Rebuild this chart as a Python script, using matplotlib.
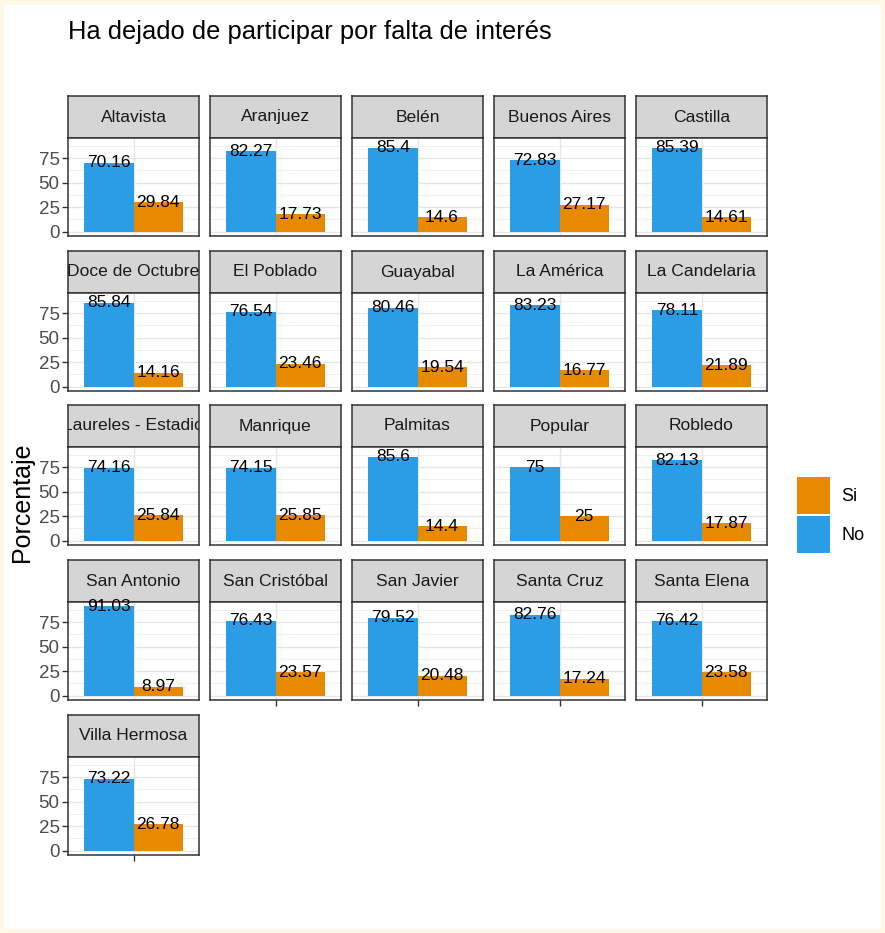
import matplotlib
matplotlib.use("Agg")
import matplotlib.pyplot as plt
from matplotlib.patches import Patch, Rectangle
from matplotlib.ticker import MultipleLocator

plt.rcParams['font.family'] = ['Liberation Sans', 'DejaVu Sans']

# Percentages per comuna: "No" / "Si"
comunas = [
    "Altavista", "Aranjuez", "Belén", "Buenos Aires", "Castilla",
    "Doce de Octubre", "El Poblado", "Guayabal", "La América", "La Candelaria",
    "Laureles - Estadio", "Manrique", "Palmitas", "Popular", "Robledo",
    "San Antonio", "San Cristóbal", "San Javier", "Santa Cruz", "Santa Elena",
    "Villa Hermosa",
]
pct_no = [70.16, 82.27, 85.4, 72.83, 85.39,
          85.84, 76.54, 80.46, 83.23, 78.11,
          74.16, 74.15, 85.6, 75, 82.13,
          91.03, 76.43, 79.52, 82.76, 76.42,
          73.22]
pct_si = [29.84, 17.73, 14.6, 27.17, 14.61,
          14.16, 23.46, 19.54, 16.77, 21.89,
          25.84, 25.85, 14.4, 25, 17.87,
          8.97, 23.57, 20.48, 17.24, 23.58,
          26.78]
respuestas = ["No", "Si"]
y_ticks = [0, 25, 50, 75]

title = "Ha dejado de participar por falta de interés"
y_title = "Porcentaje"

COLORS = {"No": "#2B9DE6", "Si": "#E88A00"}
W, H = 885, 933
DPI = 100
NCOL = 5

fig = plt.figure(figsize=(W / DPI, H / DPI), dpi=DPI, facecolor="#FFF8E6")
# white canvas inside a thin cream frame
fig.patches.append(Rectangle((4 / W, 4 / H), (W - 8) / W, (H - 9) / H,
                             transform=fig.transFigure, facecolor="white",
                             edgecolor="none", zorder=-10))


def box(x, y, w, h):
    """pixel box (top-left origin) -> figure fraction rect"""
    return [x / W, 1 - (y + h) / H, w / W, h / H]


col_left = [68, 210, 352, 494, 636]
row_top = [96, 251, 405, 560, 715]
PW, STRIP_H, PH = 131, 42, 98

ymax = max(max(pct_no), max(pct_si))
ylim = (-0.05 * ymax, 1.05 * ymax)
bar_w = 0.45
n = len(comunas)
nrows = (n + NCOL - 1) // NCOL

for i, name in enumerate(comunas):
    r, c = divmod(i, NCOL)
    x0, y0 = col_left[c], row_top[r]

    # strip
    sax = fig.add_axes(box(x0, y0, PW, STRIP_H))
    sax.set_facecolor("#D5D5D5")
    sax.set_xticks([]); sax.set_yticks([])
    for sp in sax.spines.values():
        sp.set_color("#333333"); sp.set_linewidth(1.1)
    sax.text(0.5, 0.5, name, ha="center", va="center", fontsize=12.6,
             color="#1A1A1A", transform=sax.transAxes, clip_on=True)

    # panel
    ax = fig.add_axes(box(x0, y0 + STRIP_H, PW, PH))
    ax.set_facecolor("white")
    ax.set_xlim(0.4, 1.6)
    ax.set_ylim(*ylim)
    ax.set_axisbelow(True)
    ax.yaxis.set_major_locator(MultipleLocator(25))
    ax.yaxis.set_minor_locator(MultipleLocator(12.5))
    ax.set_yticks(y_ticks)
    ax.set_xticks([1])
    ax.grid(which="major", color="#E6E6E6", linewidth=1.0)
    ax.grid(which="minor", axis="y", color="#EDEDED", linewidth=0.6)
    for sp in ax.spines.values():
        sp.set_color("#333333"); sp.set_linewidth(1.1)

    vals = {"No": pct_no[i], "Si": pct_si[i]}
    for k, resp in enumerate(respuestas):
        xc = 1 - bar_w / 2 + k * bar_w
        v = vals[resp]
        ax.bar(xc, v, width=bar_w, color=COLORS[resp], linewidth=0)
        ax.text(xc, v, f"{v:g}", ha="center", va="center", fontsize=12.5,
                color="black")

    ax.tick_params(axis="y", which="minor", length=0)
    if c == 0:
        ax.tick_params(axis="y", which="major", length=4, width=1.0,
                       color="#333333", labelsize=13.5, labelcolor="#4D4D4D",
                       pad=2)
    else:
        ax.tick_params(axis="y", which="major", length=0, labelleft=False)

    last_in_col = (r == nrows - 1) or (i + NCOL >= n)
    if last_in_col:
        ax.tick_params(axis="x", length=4, width=1.0, color="#333333",
                       labelbottom=False)
    else:
        ax.tick_params(axis="x", length=0, labelbottom=False)

fig.text(68 / W, 1 - 39 / H, title, fontsize=18.4, color="black",
         ha="left", va="baseline")
fig.text(22 / W, 1 - 502 / H, y_title, fontsize=18, color="black",
         rotation=90, ha="center", va="center")

handles = [Patch(facecolor=COLORS["Si"], edgecolor="none", label="Si"),
           Patch(facecolor=COLORS["No"], edgecolor="none", label="No")]
fig.legend(handles=handles, loc="upper left",
           bbox_to_anchor=(797 / W, 1 - 477 / H), frameon=False,
           fontsize=13, handlelength=1.85, handleheight=2.75,
           handletextpad=0.6, labelspacing=0.12, borderpad=0,
           borderaxespad=0)

fig.savefig("out.png", dpi=DPI, facecolor=fig.get_facecolor())
